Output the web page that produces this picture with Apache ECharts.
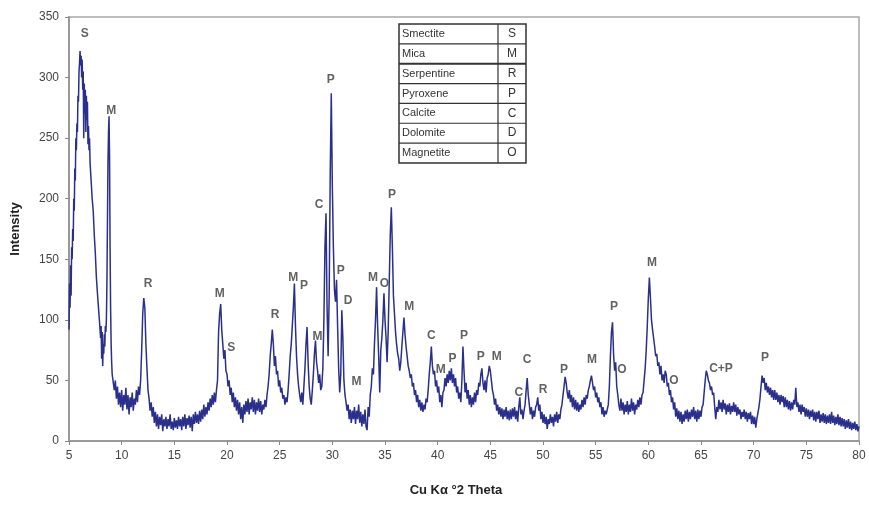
<!DOCTYPE html>
<html><head><meta charset="utf-8">
<script src="https://cdn.jsdelivr.net/npm/echarts@6/dist/echarts.min.js"></script>
<style>html,body{margin:0;padding:0;background:#fff}#c{width:869px;height:508px}</style>
</head><body><div id="c"></div>
<script>
// XRD pattern: [2theta, intensity]
const pattern = [
[5.0,92],[5.05,130],[5.1,110],[5.15,145],[5.2,120],[5.25,160],[5.3,150],[5.35,175],[5.4,165],[5.45,200],[5.5,190],[5.55,225],[5.6,215],[5.65,250],[5.7,240],[5.75,262],[5.8,255],[5.85,285],[5.9,280],[5.95,305],[6.0,312],[6.05,322],[6.1,310],[6.15,318],[6.2,300],[6.25,315],[6.3,290],[6.35,305],[6.4,250],[6.45,295],[6.5,270],[6.55,290],[6.6,255],[6.65,285],[6.7,265],[6.75,280],[6.8,245],[6.85,260],[6.9,240],[6.95,250],[7.0,230],[7.1,215],[7.2,200],[7.3,190],[7.4,170],[7.5,155],[7.6,135],[7.7,122],[7.8,110],[7.9,98],[8.0,85],[8.05,95],[8.1,68],[8.15,90],[8.2,62],[8.25,80],[8.3,72],[8.35,88],[8.4,78],[8.45,95],[8.5,90],[8.55,100],[8.6,130],[8.65,180],[8.7,230],[8.75,255],[8.8,268],[8.85,235],[8.9,160],[8.95,110],[9.0,80],[9.05,65],[9.1,55],
[9.2,55],[9.3,42],[9.4,50],[9.5,35],[9.6,45],[9.7,30],[9.8,40],[9.9,28],[10.0,42],[10.1,25],[10.2,38],[10.3,30],[10.4,44],[10.5,26],[10.6,38],[10.7,22],[10.8,36],[10.9,28],[11.0,40],[11.1,25],[11.2,35],[11.3,30],[11.4,42],[11.5,32],[11.6,45],[11.7,38],[11.8,50],
[11.9,75],[12.0,105],[12.1,118],[12.2,110],[12.3,80],[12.4,60],[12.5,42],[12.6,35],[12.7,25],[12.8,32],[12.9,20],[13.0,28],
[13.1,15],[13.2,24],[13.3,12],[13.4,22],[13.5,10],[13.6,20],[13.7,13],[13.8,22],[13.9,8],[14.0,18],[14.1,12],[14.2,20],[14.3,10],[14.4,18],[14.5,12],[14.6,22],[14.7,10],[14.8,16],[14.9,9],[15.0,19],[15.1,11],[15.2,17],[15.3,10],[15.4,20],[15.5,12],[15.6,18],[15.7,9],[15.8,20],[15.9,12],[16.0,22],[16.1,10],[16.2,19],[16.3,13],[16.4,21],[16.5,11],[16.6,20],[16.7,8],[16.8,22],[16.9,14],[17.0,24],[17.1,15],[17.2,22],[17.3,14],[17.4,25],[17.5,16],[17.6,26],[17.7,18],[17.8,30],[17.9,20],[18.0,28],[18.1,22],[18.2,32],[18.3,25],[18.4,35],[18.5,28],[18.6,38],[18.7,30],[18.8,40],[18.9,32],[19.0,42],[19.1,50],
[19.2,90],[19.3,105],[19.4,113],[19.5,92],[19.6,80],[19.7,68],[19.8,75],[19.9,58],[20.0,55],[20.1,45],[20.2,50],[20.3,38],[20.4,44],[20.5,32],[20.6,40],[20.7,28],[20.8,36],[20.9,25],[21.0,34],[21.1,22],[21.2,32],[21.3,18],[21.4,28],[21.5,15],[21.6,30],[21.7,22],[21.8,33],[21.9,24],[22.0,35],[22.1,22],[22.2,32],[22.3,26],[22.4,36],[22.5,24],[22.6,34],[22.7,22],[22.8,32],[22.9,25],[23.0,35],[23.1,24],[23.2,33],[23.3,22],[23.4,30],[23.5,26],[23.6,34],[23.7,28],[23.8,38],[23.9,45],[24.0,55],[24.1,70],[24.2,80],[24.3,92],[24.4,80],[24.5,62],[24.6,70],[24.7,55],[24.8,58],[24.9,45],[25.0,50],[25.1,40],[25.2,44],[25.3,35],[25.4,38],[25.5,30],[25.6,36],[25.7,32],[25.8,42],[25.9,55],[26.0,70],[26.1,80],[26.2,95],[26.3,110],[26.4,130],[26.5,95],[26.6,70],[26.7,55],[26.8,45],[26.9,38],[27.0,32],[27.1,40],[27.2,30],[27.3,45],[27.4,60],[27.5,80],[27.6,94],[27.7,65],[27.8,45],[27.9,35],[28.0,30],[28.1,42],[28.2,55],[28.3,72],[28.4,83],[28.5,65],[28.6,58],[28.7,48],[28.8,55],[28.9,42],[29.0,45],[29.1,60],[29.2,100],[29.3,160],[29.4,188],[29.5,110],[29.6,70],[29.7,120],[29.8,220],[29.9,287],[30.0,210],[30.1,160],[30.2,125],[30.3,115],[30.4,133],[30.5,95],[30.6,60],[30.7,40],[30.8,55],[30.9,108],[31.0,85],[31.1,50],[31.2,38],[31.3,32],[31.4,25],[31.5,30],[31.6,18],[31.7,26],[31.8,15],[31.9,25],[32.0,18],[32.1,28],[32.2,14],[32.3,25],[32.4,18],[32.5,30],[32.6,15],[32.7,24],[32.8,12],[32.9,22],[33.0,14],[33.1,26],[33.2,12],[33.3,9],[33.4,28],[33.5,20],[33.6,38],[33.7,45],[33.8,60],[33.9,55],[34.0,80],[34.1,100],[34.2,127],[34.3,95],[34.4,70],[34.5,40],[34.6,75],[34.7,85],[34.8,100],[34.9,122],[35.0,100],[35.1,85],[35.2,65],[35.3,90],[35.4,130],[35.5,170],[35.6,193],[35.7,160],[35.8,120],[35.9,105],[36.0,90],[36.1,80],[36.2,72],[36.3,68],[36.4,58],[36.5,65],[36.6,78],[36.7,90],[36.8,102],[36.9,88],[37.0,78],[37.1,70],[37.2,62],[37.3,58],[37.4,52],[37.5,55],[37.6,45],[37.7,48],[37.8,38],[37.9,42],[38.0,32],[38.1,38],[38.2,28],[38.3,34],[38.4,25],[38.5,32],[38.6,24],[38.7,30],[38.8,26],[38.9,35],[39.0,32],[39.1,42],[39.2,55],[39.3,65],[39.4,78],[39.5,62],[39.6,55],[39.7,58],[39.8,45],[39.9,50],[40.0,40],[40.1,45],[40.2,32],[40.3,38],[40.4,28],[40.5,40],[40.6,42],[40.7,52],[40.8,45],[40.9,55],[41.0,48],[41.1,58],[41.2,50],[41.3,60],[41.4,48],[41.5,55],[41.6,45],[41.7,52],[41.8,40],[41.9,45],[42.0,35],[42.1,40],[42.2,32],[42.3,50],[42.4,78],[42.5,58],[42.6,40],[42.7,48],[42.8,35],[42.9,42],[43.0,30],[43.1,38],[43.2,28],[43.3,36],[43.4,30],[43.5,40],[43.6,32],[43.7,42],[43.8,38],[43.9,48],[44.0,45],[44.1,55],[44.2,60],[44.3,48],[44.4,42],[44.5,50],[44.6,40],[44.7,52],[44.8,55],[44.9,62],[45.0,58],[45.1,50],[45.2,42],[45.3,38],[45.4,30],[45.5,35],[45.6,25],[45.7,30],[45.8,22],[45.9,28],[46.0,20],[46.1,27],[46.2,18],[46.3,26],[46.4,20],[46.5,28],[46.6,18],[46.7,25],[46.8,17],[46.9,26],[47.0,18],[47.1,27],[47.2,20],[47.3,28],[47.4,18],[47.5,25],[47.6,16],[47.7,28],[47.8,36],[47.9,22],[48.0,26],[48.1,18],[48.2,25],[48.3,30],[48.4,42],[48.5,52],[48.6,38],[48.7,30],[48.8,22],[48.9,28],[49.0,18],[49.1,25],[49.2,20],[49.3,28],[49.4,30],[49.5,36],[49.6,25],[49.7,30],[49.8,18],[49.9,24],[50.0,15],[50.1,22],[50.2,14],[50.3,20],[50.4,10],[50.5,18],[50.6,14],[50.7,22],[50.8,15],[50.9,20],[51.0,12],[51.1,22],[51.2,16],[51.3,24],[51.4,15],[51.5,22],[51.6,18],[51.7,26],[51.8,30],[51.9,38],[52.0,45],[52.1,53],[52.2,48],[52.3,40],[52.4,35],[52.5,42],[52.6,32],[52.7,38],[52.8,28],[52.9,36],[53.0,26],[53.1,34],[53.2,25],[53.3,32],[53.4,24],[53.5,30],[53.6,26],[53.7,34],[53.8,28],[53.9,36],[54.0,30],[54.1,38],[54.2,35],[54.3,42],[54.4,45],[54.5,50],[54.6,54],[54.7,48],[54.8,42],[54.9,45],[55.0,36],[55.1,40],[55.2,32],[55.3,36],[55.4,28],[55.5,32],[55.6,22],[55.7,28],[55.8,20],[55.9,25],[56.0,22],[56.1,26],[56.2,30],[56.3,45],[56.4,70],[56.5,90],[56.6,98],[56.7,72],[56.8,58],[56.9,65],[57.0,45],[57.1,38],[57.2,30],[57.3,25],[57.4,35],[57.5,25],[57.6,32],[57.7,22],[57.8,30],[57.9,24],[58.0,33],[58.1,22],[58.2,30],[58.3,24],[58.4,35],[58.5,25],[58.6,32],[58.7,22],[58.8,30],[58.9,26],[59.0,34],[59.1,28],[59.2,36],[59.3,30],[59.4,38],[59.5,40],[59.6,50],[59.7,60],[59.8,75],[59.9,95],[60.0,118],[60.1,135],[60.2,118],[60.3,100],[60.4,92],[60.5,85],[60.6,78],[60.7,70],[60.8,72],[60.9,62],[61.0,65],[61.1,55],[61.2,62],[61.3,50],[61.4,55],[61.5,48],[61.6,58],[61.7,55],[61.8,45],[61.9,48],[62.0,38],[62.1,42],[62.2,32],[62.3,36],[62.4,26],[62.5,32],[62.6,20],[62.7,27],[62.8,18],[62.9,25],[63.0,16],[63.1,24],[63.2,14],[63.3,22],[63.4,16],[63.5,25],[63.6,18],[63.7,26],[63.8,16],[63.9,24],[64.0,18],[64.1,26],[64.2,20],[64.3,28],[64.4,18],[64.5,25],[64.6,16],[64.7,26],[64.8,18],[64.9,25],[65.0,20],[65.1,28],[65.2,30],[65.3,40],[65.4,50],[65.5,58],[65.6,55],[65.7,50],[65.8,48],[65.9,42],[66.0,45],[66.1,38],[66.2,40],[66.3,28],[66.4,18],[66.5,28],[66.6,24],[66.7,34],[66.8,26],[66.9,32],[67.0,24],[67.1,34],[67.2,26],[67.3,31],[67.4,22],[67.5,30],[67.6,24],[67.7,31],[67.8,22],[67.9,29],[68.0,24],[68.1,32],[68.2,24],[68.3,30],[68.4,21],[68.5,28],[68.6,22],[68.7,26],[68.8,18],[68.9,24],[69.0,20],[69.1,26],[69.2,18],[69.3,24],[69.4,16],[69.5,23],[69.6,18],[69.7,24],[69.8,14],[69.9,21],[70.0,14],[70.1,20],[70.2,11],[70.3,18],[70.4,18],[70.5,28],[70.6,35],[70.7,45],[70.8,54],[70.9,48],[71.0,52],[71.1,42],[71.2,48],[71.3,40],[71.4,45],[71.5,38],[71.6,44],[71.7,36],[71.8,42],[71.9,34],[72.0,42],[72.1,34],[72.2,40],[72.3,32],[72.4,38],[72.5,30],[72.6,38],[72.7,32],[72.8,37],[72.9,28],[73.0,36],[73.1,28],[73.2,34],[73.3,26],[73.4,33],[73.5,25],[73.6,32],[73.7,26],[73.8,34],[73.9,30],[74.0,44],[74.1,28],[74.2,32],[74.3,24],[74.4,30],[74.5,22],[74.6,30],[74.7,24],[74.8,28],[74.9,20],[75.0,27],[75.1,20],[75.2,26],[75.3,18],[75.4,25],[75.5,20],[75.6,26],[75.7,17],[75.8,24],[75.9,16],[76.0,24],[76.1,18],[76.2,25],[76.3,15],[76.4,22],[76.5,16],[76.6,23],[76.7,15],[76.8,22],[76.9,14],[77.0,21],[77.1,15],[77.2,22],[77.3,14],[77.4,24],[77.5,15],[77.6,21],[77.7,13],[77.8,20],[77.9,14],[78.0,22],[78.1,13],[78.2,20],[78.3,12],[78.4,19],[78.5,12],[78.6,18],[78.7,10],[78.8,17],[78.9,11],[79.0,18],[79.1,10],[79.2,16],[79.3,9],[79.4,15],[79.5,10],[79.6,16],[79.7,9],[79.8,14],[79.9,8],[80.0,12]
];

// peak annotations: [2theta, intensity, phase letter]
const peakLabels = [
[6.5,336,'S'],[9.0,273,'M'],[12.5,130,'R'],[19.3,122,'M'],[20.4,77,'S'],[24.56,104,'R'],[26.3,135,'M'],[27.3,128,'P'],[28.6,86,'M'],[28.75,195,'C'],[29.85,298,'P'],[30.8,141,'P'],[31.5,116,'D'],[32.3,49,'M'],[33.86,135,'M'],[34.95,130,'O'],[35.67,203,'P'],[37.3,111,'M'],[39.4,87,'C'],[40.3,59,'M'],[41.4,68,'P'],[42.5,87,'P'],[44.1,70,'P'],[45.6,70,'M'],[47.7,40,'C'],[48.5,67,'C'],[50.0,42,'R'],[52.0,59,'P'],[54.65,67,'M'],[56.74,111,'P'],[57.5,59,'O'],[60.35,147,'M'],[62.44,50,'O'],[66.9,60,'C+P'],[71.08,69,'P']
];

const phaseNames = ['Smectite','Mica','Serpentine','Pyroxene','Calcite','Dolomite','Magnetite'];
const phaseCodes = ['S','M','R','P','C','D','O'];

const xMin = 5, xMax = 80, xStep = 5;
const yMin = 0, yMax = 350, yStep = 50;

const chart = echarts.init(document.getElementById('c'));

const tbl = {left: 399, top: 24, w: 127, rowH: 19.85, split: 99};
const graphics = [];
graphics.push({type:'rect', shape:{x:tbl.left, y:tbl.top, width:tbl.w, height:tbl.rowH*phaseNames.length}, style:{fill:'#fff', stroke:'#333', lineWidth:1.5}, z:10});
graphics.push({type:'line', shape:{x1:tbl.left+tbl.split, y1:tbl.top, x2:tbl.left+tbl.split, y2:tbl.top+tbl.rowH*phaseNames.length}, style:{stroke:'#333', lineWidth:1.2}, z:11});
phaseNames.forEach((n,i)=>{
  const y = tbl.top + i*tbl.rowH;
  if (i>0) graphics.push({type:'line', shape:{x1:tbl.left, y1:y, x2:tbl.left+tbl.w, y2:y}, style:{stroke:'#333', lineWidth: i===2?2:1.2}, z:11});
  graphics.push({type:'text', x:tbl.left+3, y:y+tbl.rowH/2, style:{text:n, fill:'#333', font:'11px "Liberation Sans", Arial, sans-serif', textVerticalAlign:'middle'}, z:12});
  graphics.push({type:'text', x:tbl.left+tbl.split+14, y:y+tbl.rowH/2, style:{text:phaseCodes[i], fill:'#333', font:'12px "Liberation Sans", Arial, sans-serif', textAlign:'center', textVerticalAlign:'middle'}, z:12});
});

chart.setOption({
  animation: false,
  backgroundColor: '#fff',
  grid: {left: 69, right: 10, top: 17, bottom: 67, show: true, borderColor: '#a8a8a8', borderWidth: 1.5},
  xAxis: {
    type: 'value', min: xMin, max: xMax, interval: xStep,
    name: 'Cu K\u03b1 \u00b02 Theta', nameLocation: 'middle', nameGap: 43,
    nameTextStyle: {fontFamily: '"Liberation Sans", Arial, sans-serif', fontWeight: 'bold', fontSize: 13, color: '#222', padding: [0, 16, 0, 0]},
    axisLine: {lineStyle: {color: '#999', width: 2}},
    axisTick: {length: 4, lineStyle: {color: '#888'}},
    axisLabel: {color: '#444', fontSize: 12, fontFamily: '"Liberation Sans", Arial, sans-serif', margin: 9},
    splitLine: {show: false}
  },
  yAxis: {
    type: 'value', min: yMin, max: yMax, interval: yStep,
    name: 'Intensity', nameLocation: 'middle', nameGap: 47, nameRotate: 90,
    nameTextStyle: {fontFamily: '"Liberation Sans", Arial, sans-serif', fontWeight: 'bold', fontSize: 13, color: '#222'},
    axisLine: {show: true, lineStyle: {color: '#999', width: 2}},
    axisTick: {show: true, length: 4, lineStyle: {color: '#888'}},
    axisLabel: {color: '#444', fontSize: 12, fontFamily: '"Liberation Sans", Arial, sans-serif', margin: 10},
    splitLine: {show: false}
  },
  graphic: graphics,
  series: [
    {
      type: 'line', data: pattern, showSymbol: false, symbol: 'none',
      lineStyle: {color: '#2a2f8c', width: 1.5}, z: 3
    },
    {
      type: 'scatter', data: peakLabels, symbolSize: 0.1,
      itemStyle: {color: 'rgba(0,0,0,0)'},
      label: {show: true, position: 'inside', formatter: p => p.data[2], color: '#3a3a3a',
              fontSize: 12, fontFamily: '"Liberation Sans", Arial, sans-serif', fontWeight: 'bold'},
      z: 5, silent: true
    }
  ]
});
</script>
</body></html>
